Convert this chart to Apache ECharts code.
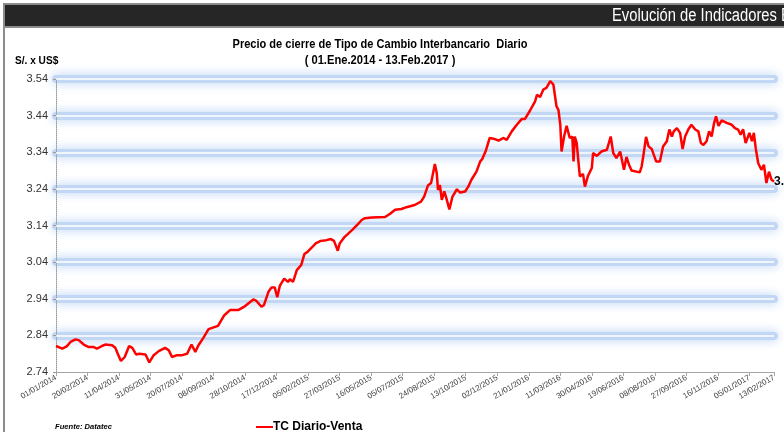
<!DOCTYPE html>
<html>
<head>
<meta charset="utf-8">
<script src="https://cdn.jsdelivr.net/npm/echarts@6/dist/echarts.min.js"></script>
<style>
  html, body { margin: 0; padding: 0; background: #fff; }
  #tcChart { width: 784px; height: 432px; }
</style>
</head>
<body>
<div id="tcChart"></div>
<script>
// days counted from 01/01/2014
const dayOffsets = [0,10,17,23,31,36,44,52,60,65,73,78,89,94,99,103,109,116,121,127,132,142,148,155,163,173,179,184,192,200,208,215,221,226,234,242,257,267,276,289,300,313,318,326,330,337,342,347,351,355,362,368,371,376,382,389,394,399,407,412,420,429,436,441,447,450,458,470,479,485,490,501,522,530,538,548,556,569,579,584,590,595,601,604,606,609,612,616,620,624,629,636,641,649,654,659,667,673,676,682,688,694,702,710,715,723,731,739,744,752,760,763,768,773,778,784,789,794,797,800,802,806,810,815,819,821,823,826,831,836,839,844,850,852,858,865,874,880,884,889,895,901,905,909,913,926,929,932,936,940,945,952,958,963,969,973,977,980,985,990,994,998,1003,1008,1014,1019,1023,1027,1032,1036,1040,1044,1047,1051,1056,1064,1072,1077,1082,1086,1090,1094,1100,1104,1107,1110,1114,1119,1123,1127,1131,1135,1139];

const tcVenta = [2.811,2.804,2.810,2.822,2.829,2.827,2.815,2.808,2.808,2.804,2.811,2.815,2.813,2.806,2.786,2.770,2.781,2.811,2.806,2.788,2.790,2.788,2.766,2.786,2.797,2.806,2.799,2.781,2.786,2.786,2.790,2.815,2.795,2.813,2.834,2.857,2.866,2.895,2.909,2.909,2.920,2.938,2.934,2.918,2.923,2.959,2.971,2.971,2.944,2.975,2.995,2.986,2.993,2.986,3.018,3.032,3.062,3.068,3.082,3.091,3.098,3.100,3.103,3.098,3.071,3.091,3.109,3.128,3.144,3.155,3.160,3.162,3.163,3.172,3.183,3.185,3.190,3.196,3.205,3.219,3.249,3.256,3.308,3.283,3.237,3.251,3.210,3.233,3.210,3.184,3.219,3.239,3.230,3.233,3.246,3.265,3.287,3.315,3.321,3.345,3.379,3.377,3.372,3.379,3.374,3.397,3.415,3.431,3.431,3.454,3.479,3.497,3.491,3.511,3.516,3.534,3.525,3.465,3.456,3.415,3.342,3.383,3.412,3.379,3.383,3.315,3.383,3.365,3.274,3.281,3.246,3.276,3.297,3.338,3.330,3.342,3.347,3.383,3.338,3.324,3.342,3.292,3.327,3.306,3.290,3.285,3.301,3.333,3.382,3.356,3.349,3.315,3.315,3.356,3.370,3.402,3.383,3.397,3.406,3.393,3.349,3.383,3.402,3.415,3.402,3.397,3.365,3.360,3.370,3.397,3.383,3.420,3.438,3.412,3.427,3.420,3.415,3.406,3.402,3.388,3.403,3.365,3.393,3.370,3.393,3.351,3.310,3.292,3.306,3.256,3.287,3.265,3.260];

const xTickLabels = ['01/01/2014','20/02/2014','11/04/2014','31/05/2014','20/07/2014','08/09/2014','28/10/2014','17/12/2014','05/02/2015','27/03/2015','16/05/2015','05/07/2015','24/08/2015','13/10/2015','02/12/2015','21/01/2016','11/03/2016','30/04/2016','19/06/2016','08/08/2016','27/09/2016','16/11/2016','05/01/2017','13/02/2017'];

const lastDay = 1139;
const yMin = 2.74, yMax = 3.54, yStep = 0.1;
const font = '"Liberation Sans", Arial, sans-serif';

let chartDom = document.getElementById('tcChart');
let myChart = echarts.init(chartDom);
let option;

function txt(x, y, text, f, align, sx, fill) {
  return {
    type: 'text', x: x, y: y, scaleX: sx || 1,
    style: { text: text, fill: fill || '#000', font: f,
             textAlign: align, textVerticalAlign: 'middle', align: align, verticalAlign: 'middle' }
  };
}

option = {
  animation: false,
  grid: { left: 56, right: 10, top: 79, bottom: 60 },
  graphic: [
    { type: 'line', shape: { x1: 4, y1: 4, x2: 4, y2: 432 }, style: { stroke: '#8c8c8c', lineWidth: 2 } },
    { type: 'rect', shape: { x: 4, y: 4, width: 790, height: 23 }, style: { fill: '#262626', stroke: '#8c8c8c', lineWidth: 2 } },
    txt(612, 16, 'Evolución de Indicadores Económicos', '18px ' + font, 'left', 0.82, '#fff'),
    txt(380, 45, 'Precio de cierre de Tipo de Cambio Interbancario  Diario', 'bold 12px ' + font, 'center', 0.92),
    txt(380, 61, '( 01.Ene.2014 - 13.Feb.2017 )', 'bold 12px ' + font, 'center', 0.93),
    txt(15, 61, 'S/. x US$', 'bold 11px ' + font, 'left', 0.92),
    txt(55, 427, 'Fuente: Datatec', 'italic bold 8px ' + font, 'left', 0.95)
  ],
  legend: {
    left: 251,
    top: 416,
    itemWidth: 17,
    itemHeight: 2,
    textStyle: { fontSize: 12, fontFamily: font, fontWeight: 'bold', color: '#000', padding: [0, 0, 0, -5] },
    data: [{ name: 'TC Diario-Venta', icon: 'rect' }]
  },
  xAxis: {
    type: 'value',
    min: 0,
    max: lastDay,
    interval: 50,
    axisLine: { show: true, onZero: false, lineStyle: { color: '#a6a6a6', width: 1 } },
    axisTick: { show: true, length: 4, lineStyle: { color: '#a6a6a6' } },
    splitLine: { show: false },
    axisLabel: {
      rotate: 30,
      fontSize: 8,
      margin: 5,
      color: '#404040',
      fontFamily: font,
      showMaxLabel: true,
      showMinLabel: true,
      formatter: function (v) {
        if (v >= lastDay) return xTickLabels[xTickLabels.length - 1];
        return xTickLabels[Math.round(v / 50)];
      }
    }
  },
  yAxis: [
    {
      type: 'value',
      min: yMin,
      max: yMax,
      interval: yStep,
      axisLine: { show: true, lineStyle: { color: '#9a9a9a', type: 'dotted' } },
      axisTick: { show: true, length: 3, lineStyle: { color: '#9a9a9a' } },
      axisLabel: {
        fontSize: 11,
        margin: 8,
        color: '#333',
        fontFamily: font,
        formatter: function (v) { return v.toFixed(2); }
      },
      splitLine: {
        show: true,
        showMinLine: false,
        lineStyle: {
          color: '#c2d7f4',
          width: 8,
          cap: 'round',
          shadowColor: 'rgba(180,208,244,1)',
          shadowBlur: 11
        }
      }
    },
    {
      // white core of the glowing grid lines
      type: 'value',
      min: yMin,
      max: yMax,
      interval: yStep,
      z: 1,
      axisLine: { show: false },
      axisTick: { show: false },
      axisLabel: { show: false },
      splitLine: { show: true, showMinLine: false, lineStyle: { color: '#ffffff', width: 1.5 } }
    }
  ],
  series: [
    {
      name: 'TC Diario-Venta',
      type: 'line',
      yAxisIndex: 0,
      showSymbol: false,
      symbol: 'none',
      data: dayOffsets.map((d, i) => [d, tcVenta[i]]),
      lineStyle: { color: '#ff0000', width: 2.5 },
      itemStyle: { color: '#ff0000' },
      endLabel: {
        show: true,
        distance: 0,
        fontSize: 12,
        fontWeight: 'bold',
        color: '#000',
        fontFamily: font,
        formatter: function (p) { return p.value[1].toFixed(2); }
      }
    }
  ]
};

option && myChart.setOption(option);
</script>
</body>
</html>
